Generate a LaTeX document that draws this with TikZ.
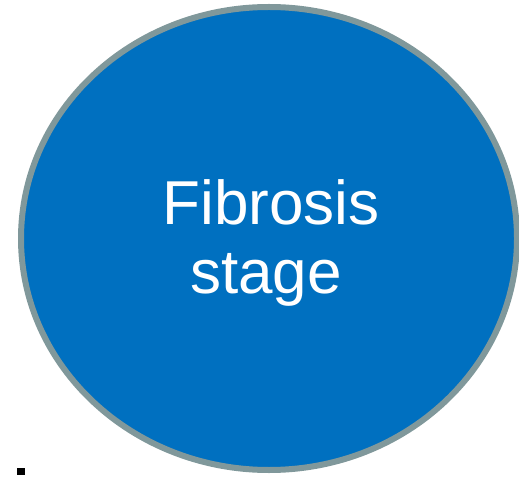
\documentclass[tikz,border=0pt]{standalone}
\usepackage{fontspec}
\setmainfont{Liberation Sans}
\usetikzlibrary{shapes.geometric}
\definecolor{fillblue}{RGB}{0,112,192}
\definecolor{rimgrey}{RGB}{128,152,155}
\tikzset{
  stageoval/.style={ellipse, draw=rimgrey, fill=fillblue, line width=6pt, inner sep=0pt, minimum width=496pt, minimum height=463pt},
  bigtext/.style={text=white, font=\fontsize{62pt}{68pt}\selectfont, inner sep=0pt, anchor=base},
  dotmark/.style={fill=black, minimum size=7.5pt, inner sep=0pt, draw=none}
}
\begin{document}
\begin{tikzpicture}[x=1pt,y=-1pt]
\useasboundingbox (0,0) rectangle (519,478);
\node[stageoval] (oval) at (269,238.5) {};
\node[bigtext] (t1) at (271,225) {Fibrosis};
\node[bigtext] (t2) at (266,293) {stage};
\node[dotmark] (dot) at (21,471.5) {};
\end{tikzpicture}
\end{document}
